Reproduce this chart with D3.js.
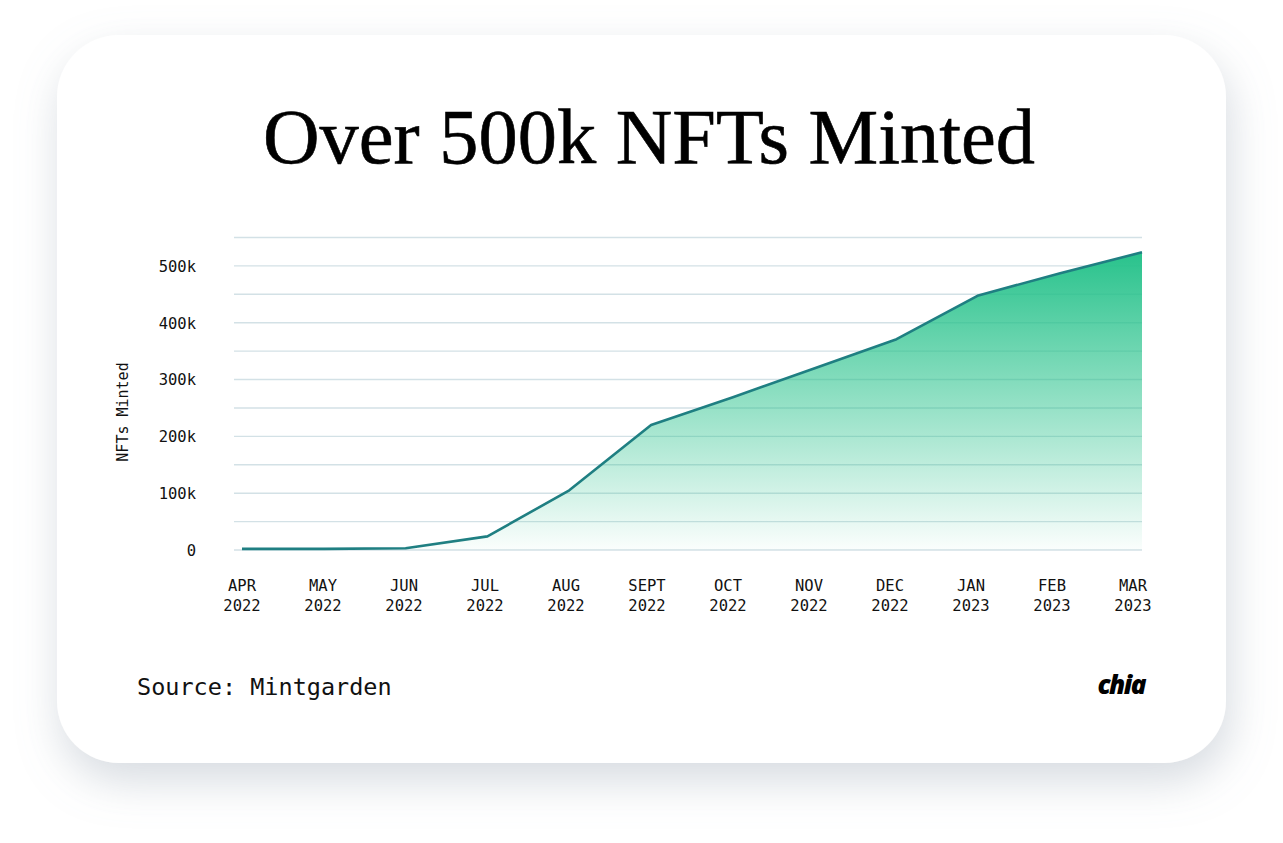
<!DOCTYPE html>
<html>
<head>
<meta charset="utf-8">
<script src="https://cdn.jsdelivr.net/npm/d3@7/dist/d3.min.js"></script>
<style>
  html, body { margin: 0; padding: 0; background: #ffffff; }
  svg { display: block; }
</style>
</head>
<body>
<svg id="chart" width="1283" height="843"></svg>
<script>
// ---- Data ----
const months = ["APR","MAY","JUN","JUL","AUG","SEPT","OCT","NOV","DEC","JAN","FEB","MAR"];
const years  = ["2022","2022","2022","2022","2022","2022","2022","2022","2022","2023","2023","2023"];
const minted = [2000, 2000, 3000, 24000, 105000, 220000, 269000, 320000, 371000, 448000, 487000, 524000];
const yTickValues = [0, 100000, 200000, 300000, 400000, 500000];
const yTickLabels = ["0", "100k", "200k", "300k", "400k", "500k"];
const gridValues = [0, 50000, 100000, 150000, 200000, 250000, 300000, 350000, 400000, 450000, 500000, 550000];

const svg = d3.select("#chart");
const defs = svg.append("defs");

// Card shadow
const f = defs.append("filter").attr("id", "shadow").attr("x", "-20%").attr("y", "-20%").attr("width", "140%").attr("height", "150%");
f.append("feDropShadow").attr("dx", 4).attr("dy", 18).attr("stdDeviation", 22)
  .attr("flood-color", "#8a97a8").attr("flood-opacity", 0.35);

// Area gradient
const g = defs.append("linearGradient").attr("id", "areaGrad")
  .attr("gradientUnits", "userSpaceOnUse").attr("x1", 0).attr("x2", 0).attr("y1", 250).attr("y2", 550);
g.append("stop").attr("offset", "0%").attr("stop-color", "#27c28b").attr("stop-opacity", 1);
g.append("stop").attr("offset", "100%").attr("stop-color", "#27c28b").attr("stop-opacity", 0.02);

// Card
svg.append("rect").attr("x", 57).attr("y", 35).attr("width", 1169).attr("height", 728)
  .attr("rx", 62).attr("ry", 62).attr("fill", "#ffffff").attr("filter", "url(#shadow)");

// Title
svg.append("text").attr("x", 649).attr("y", 163).attr("text-anchor", "middle")
  .attr("font-family", "'Liberation Serif', 'DejaVu Serif', serif")
  .attr("font-size", 78).attr("fill", "#000")
  .attr("stroke", "#000").attr("stroke-width", 0.6)
  .attr("textLength", 772).attr("lengthAdjust", "spacingAndGlyphs")
  .text("Over 500k NFTs Minted");

// Scales
const x = d3.scalePoint().domain(months).range([242, 1142]);
const xLabel = d3.scalePoint().domain(months).range([242, 1133]);
const y = d3.scaleLinear().domain([0, 550000]).range([550, 237.5]);

// Gridlines
svg.append("g").selectAll("line").data(gridValues).join("line")
  .attr("x1", 234).attr("x2", 1142)
  .attr("y1", d => y(d)).attr("y2", d => y(d))
  .attr("stroke", "#d3e1e6").attr("stroke-width", 1.4);

// Area
const area = d3.area().x((d, i) => x(months[i])).y0(y(0)).y1(d => y(d));
svg.append("path").datum(minted).attr("d", area).attr("fill", "url(#areaGrad)");

// Line
const line = d3.line().x((d, i) => x(months[i])).y(d => y(d));
svg.append("path").datum(minted).attr("d", line)
  .attr("fill", "none").attr("stroke", "#1f7f82").attr("stroke-width", 2.6)
  .attr("stroke-linejoin", "round");

const mono = "'DejaVu Sans Mono', 'Liberation Mono', monospace";

// Y axis labels
const yAxis = d3.axisLeft(y).tickValues(yTickValues)
  .tickFormat((d, i) => yTickLabels[i]).tickSize(0).tickPadding(0);
const ya = svg.append("g").attr("transform", "translate(196,0)").call(yAxis);
ya.select(".domain").remove();
ya.selectAll("text").attr("font-family", mono).attr("font-size", 15.5).attr("fill", "#111")
  .attr("dy", "0.35em");

// Y axis title
svg.append("text").attr("transform", "translate(128,412) rotate(-90)")
  .attr("text-anchor", "middle").attr("font-family", mono).attr("font-size", 15)
  .attr("fill", "#111").text("NFTs Minted");

// X axis labels
const xa = svg.append("g");
xa.selectAll("text.m").data(months).join("text").attr("class", "m")
  .attr("x", d => xLabel(d)).attr("y", 591).attr("text-anchor", "middle")
  .attr("font-family", mono).attr("font-size", 15.5).attr("fill", "#111").text(d => d);
xa.selectAll("text.yr").data(months).join("text").attr("class", "yr")
  .attr("x", d => xLabel(d)).attr("y", 611).attr("text-anchor", "middle")
  .attr("font-family", mono).attr("font-size", 15.5).attr("fill", "#111").text((d, i) => years[i]);

// Source
svg.append("text").attr("x", 137).attr("y", 695)
  .attr("font-family", mono).attr("font-size", 23.5).attr("fill", "#111")
  .text("Source: Mintgarden");

// chia logo
svg.append("text").attr("x", 1145).attr("y", 694).attr("text-anchor", "end")
  .attr("font-family", "'Noto Sans', 'DejaVu Sans', sans-serif").attr("font-weight", 900)
  .attr("font-size", 26).attr("letter-spacing", -1.5).attr("fill", "#000")
  .attr("font-style", "italic").text("chia");
</script>
</body>
</html>
